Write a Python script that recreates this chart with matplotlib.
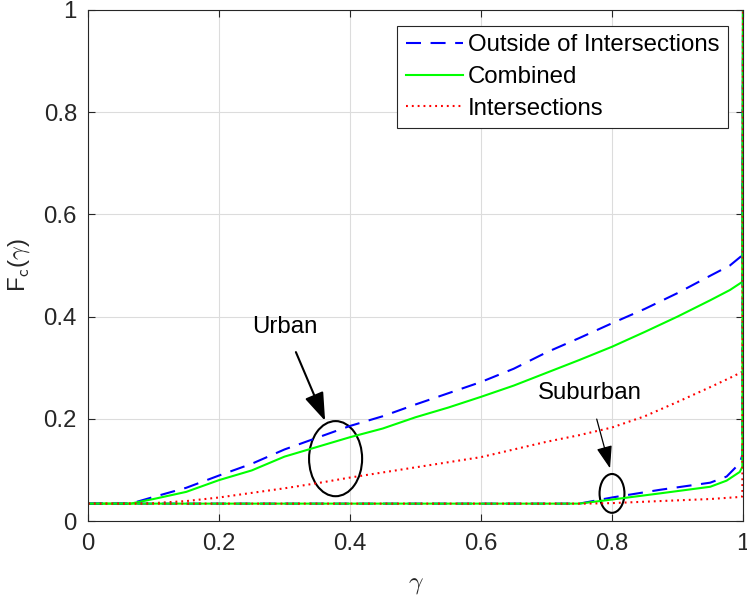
import matplotlib
matplotlib.use("Agg")
import matplotlib.pyplot as plt
from matplotlib.patches import Ellipse

plt.rcParams['font.family'] = ['Liberation Sans', 'DejaVu Sans']
plt.rcParams['mathtext.fontset'] = 'cm'

# ---- data ----
gamma_urban = [0, 0.065, 0.1, 0.15, 0.2, 0.25, 0.3, 0.35, 0.4, 0.45, 0.5, 0.55,
               0.6, 0.65, 0.7, 0.75, 0.8, 0.85, 0.9, 0.95, 0.98, 0.999, 1.0]
urban_outside = [0.034, 0.034, 0.047, 0.065, 0.089, 0.112, 0.140, 0.163, 0.186,
                 0.205, 0.228, 0.250, 0.272, 0.298, 0.330, 0.358, 0.387, 0.415,
                 0.446, 0.480, 0.500, 0.520, 1.0]
urban_combined = [0.034, 0.034, 0.043, 0.057, 0.080, 0.099, 0.126, 0.145, 0.164,
                  0.181, 0.203, 0.222, 0.243, 0.265, 0.290, 0.315, 0.341, 0.370,
                  0.400, 0.432, 0.452, 0.468, 1.0]
urban_intersections = [0.034, 0.034, 0.035, 0.039, 0.046, 0.055, 0.064, 0.074,
                       0.085, 0.095, 0.105, 0.115, 0.125, 0.140, 0.155, 0.168,
                       0.183, 0.205, 0.233, 0.262, 0.280, 0.292, 1.0]

gamma_suburban = [0, 0.75, 0.8, 0.873, 0.95, 0.975, 0.995, 0.999, 1.0]
suburban_outside = [0.034, 0.034, 0.046, 0.061, 0.075, 0.087, 0.113, 0.129, 1.0]
suburban_combined = [0.034, 0.034, 0.042, 0.054, 0.067, 0.079, 0.096, 0.106, 1.0]
gamma_suburban_int = [0, 0.76, 0.8, 0.873, 0.95, 0.995, 0.999, 1.0]
suburban_intersections = [0.034, 0.034, 0.035, 0.039, 0.043, 0.047, 0.048, 1.0]

labels = ['Outside of Intersections', 'Combined', 'Intersections']
x_ticks = [0, 0.2, 0.4, 0.6, 0.8, 1]
y_ticks = [0, 0.2, 0.4, 0.6, 0.8, 1]
x_tick_labels = ['0', '0.2', '0.4', '0.6', '0.8', '1']
y_tick_labels = ['0', '0.2', '0.4', '0.6', '0.8', '1']

# ---- figure ----
fig = plt.figure(figsize=(7.47, 5.98), dpi=100)
ax = fig.add_axes([88/747, 77/598, 655/747, 511/598])

lw = 1.5
blue_style = dict(color='#0000ff', lw=lw, dashes=(7.2, 4.6))
green_style = dict(color='#00ff00', lw=lw, linestyle='-')
red_style = dict(color='#ff0000', lw=lw, dashes=(0.9, 1.9))

ax.plot(gamma_urban, urban_outside, label=labels[0], **blue_style)
ax.plot(gamma_urban, urban_combined, label=labels[1], **green_style)
ax.plot(gamma_urban, urban_intersections, label=labels[2], **red_style)
ax.plot(gamma_suburban, suburban_outside, **blue_style)
ax.plot(gamma_suburban, suburban_combined, **green_style)
ax.plot(gamma_suburban_int, suburban_intersections, **red_style)

ax.set_xlim(0, 1)
ax.set_ylim(0, 1)
ax.set_xticks(x_ticks)
ax.set_xticklabels(x_tick_labels)
ax.set_yticks(y_ticks)
ax.set_yticklabels(y_tick_labels)

fs = 17.3
ax.grid(True, color='#dcdcdc', lw=0.8)
ax.set_axisbelow(True)
for s in ax.spines.values():
    s.set_color('#262626')
    s.set_linewidth(0.8)
ax.tick_params(direction='in', length=5, width=0.8, colors='#262626',
               labelsize=fs, top=True, right=True)
ax.tick_params(axis='x', pad=9)
ax.tick_params(axis='y', pad=8)

ax.set_xlabel(r'$\gamma$', fontsize=fs + 1, color='#262626', labelpad=12)
ax.set_ylabel(r'F$_{\mathsf{c}}$($\gamma$)', fontsize=fs, color='#262626', labelpad=8)

# annotations
ax.add_patch(Ellipse((0.378, 0.122), 0.081, 0.147, fill=False, ec='black', lw=1.5))
ax.annotate('Urban', xy=(0.362, 0.196), xytext=(0.301, 0.380),
            ha='center', va='center', fontsize=fs,
            arrowprops=dict(arrowstyle='-|>,head_length=1.0,head_width=0.35',
                            color='black', lw=1.5, shrinkA=9, shrinkB=0))
ax.add_patch(Ellipse((0.80, 0.054), 0.038, 0.076, fill=False, ec='black', lw=1.5))
ax.annotate('Suburban', xy=(0.797, 0.103), xytext=(0.766, 0.25),
            ha='center', va='center', fontsize=fs,
            arrowprops=dict(arrowstyle='-|>,head_length=0.8,head_width=0.28',
                            color='black', lw=0.9, shrinkA=9, shrinkB=0))

leg = ax.legend(loc='upper right',
                bbox_to_anchor=((728 - 88) / 655, (521 - 26) / 511),
                bbox_transform=ax.transAxes, fontsize=fs, frameon=True,
                fancybox=False, edgecolor='#262626', framealpha=1,
                handlelength=2.4, handletextpad=0.2, borderpad=0.35,
                labelspacing=0.4, borderaxespad=0)
leg.get_frame().set_linewidth(0.8)

fig.savefig('out.png', dpi=100)
